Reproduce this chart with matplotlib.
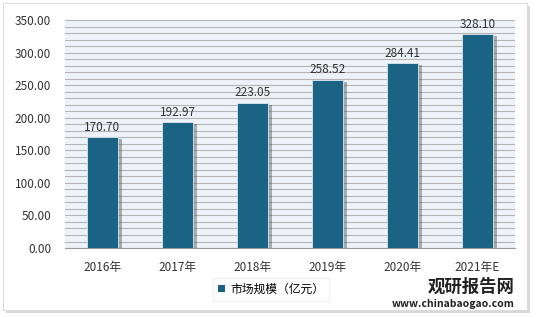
import matplotlib.pyplot as plt
import matplotlib.patheffects as pe
from matplotlib.patches import Rectangle, Patch
from matplotlib.ticker import MultipleLocator

plt.rcParams['font.family'] = ['Noto Sans CJK SC', 'DejaVu Sans']

years = ['2016年', '2017年', '2018年', '2019年', '2020年', '2021年E']
market_size = [170.70, 192.97, 223.05, 258.52, 284.41, 328.10]
series_name = '市场规模（亿元）'
bar_color = '#1b6385'

fig = plt.figure(figsize=(5.37, 3.18), dpi=100)
fig.patch.set_facecolor('white')

# outer frame with a soft shadow
fig.add_artist(Rectangle((0.012, 0.015), 0.975, 0.965, transform=fig.transFigure,
                         facecolor='#d8d8d8', edgecolor='none', zorder=-2))
fig.add_artist(Rectangle((0.006, 0.025), 0.975, 0.965, transform=fig.transFigure,
                         facecolor='white', edgecolor='#dcdcdc', linewidth=0.8, zorder=-1))

ax = fig.add_axes([0.121, 0.22, 0.838, 0.717])
ax.set_facecolor('#edf3f9')

x = range(len(years))
bars = ax.bar(x, market_size, width=0.42, color=bar_color, zorder=3,
              edgecolor='#dfe6ec', linewidth=0.6)
for b in bars:
    b.set_path_effects([pe.SimplePatchShadow(offset=(2.5, -1.5), shadow_rgbFace='#555555', alpha=0.45),
                        pe.Normal()])

for i, v in enumerate(market_size):
    ax.text(i, v + 5, f'{v:.2f}', ha='center', va='bottom', fontsize=8.5, color='#333333', zorder=4)

ax.set_xlim(-0.5, len(years) - 0.5)
ax.set_ylim(0, 350)
ax.yaxis.set_major_locator(MultipleLocator(50))
ax.yaxis.set_minor_locator(MultipleLocator(10))
ax.yaxis.set_major_formatter(lambda v, p: f'{v:.2f}')
ax.grid(axis='y', which='both', color='#b4b4b4', linewidth=0.8, zorder=0)
ax.set_axisbelow(True)

ax.set_xticks(list(x))
ax.set_xticklabels(years)
ax.tick_params(axis='both', which='both', length=0, labelsize=8.5, labelcolor='#333333')
ax.tick_params(axis='x', pad=9)
ax.tick_params(axis='y', pad=10)
for s in ['top', 'right', 'left']:
    ax.spines[s].set_visible(False)
ax.spines['bottom'].set_color('#999999')

leg = fig.legend(handles=[Patch(facecolor=bar_color, label=series_name)],
                 loc='center', bbox_to_anchor=(0.505, 0.09), frameon=True,
                 fontsize=8.5, handlelength=0.6, handleheight=0.6, handletextpad=0.5,
                 fancybox=False, edgecolor='#eeeeee')

# watermark
fig.text(0.958, 0.098, '观研报告网', fontsize=12.5, fontweight='bold', color='#222222', ha='right', va='center')
fig.text(0.958, 0.045, 'www.chinabaogao.com', fontsize=7.5, fontweight='bold', color='#222222', ha='right', va='center')

fig.savefig('out.png', dpi=100)
